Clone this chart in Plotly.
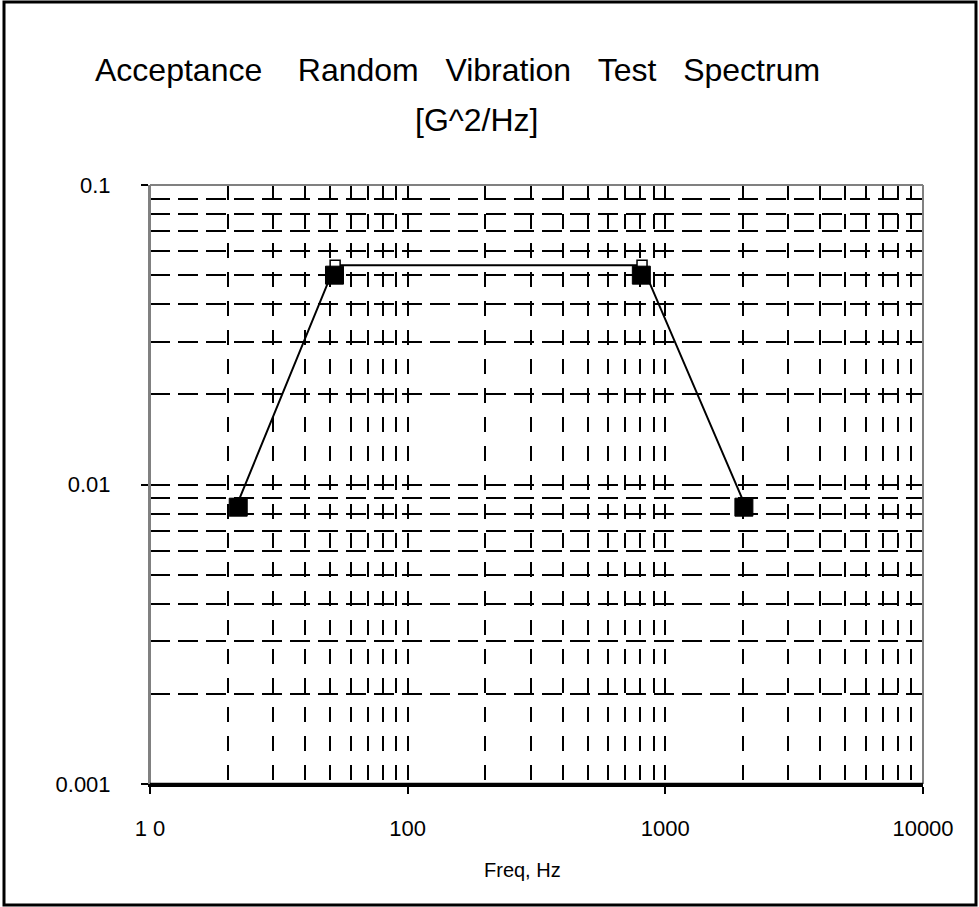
import plotly.graph_objects as go

# ---- data ----
line_freq = [21.8, 52.3, 812, 2030]
line_psd = [0.0086, 0.054, 0.054, 0.0086]
point_freq = [22, 52, 807, 2018]
point_psd = [0.0084, 0.050, 0.050, 0.0084]

x_tickvals = [10, 100, 1000, 10000]
x_ticktext = ["1 0", "100", "1000", "10000"]
y_tickvals = [0.001, 0.01, 0.1]
y_ticktext = ["0.001", "0.01", "0.1"]

NB = "\u00a0"
title_line1 = ("Acceptance" + NB * 4 + "Random" + NB * 3 + "Vibration" + NB * 3
               + "Test" + NB * 3 + "Spectrum")
title_line2 = "[G^2/Hz]"
x_title = "Freq, Hz"

# ---- layout geometry (pixels) ----
W, H = 979, 907
L, R, T, B = 150, 56, 185, 123
PW, PH = W - L - R, H - T - B


def px(xp):
    return (xp - L) / PW


def py(yp):
    return (H - B - yp) / PH


x_minor = [k * 10 ** e for e in range(1, 4) for k in range(2, 10)]
y_minor = [k * 10.0 ** e for e in range(-3, -1) for k in range(2, 10)]

fig = go.Figure()
fig.add_trace(go.Scatter(
    x=line_freq, y=line_psd, mode="lines+markers",
    line=dict(color="black", width=2),
    marker=dict(symbol="square", size=10, color="white",
                line=dict(color="black", width=1.5)),
    showlegend=False, hoverinfo="skip"))
fig.add_trace(go.Scatter(
    x=point_freq, y=point_psd, mode="markers",
    marker=dict(symbol="square", size=18, color="black",
                line=dict(color="black", width=1)),
    showlegend=False))

fig.update_layout(
    width=W, height=H,
    margin=dict(l=L, r=R, t=T, b=B, pad=0),
    paper_bgcolor="white", plot_bgcolor="white",
    font=dict(family="Liberation Sans, Arial, sans-serif", color="black"),
    xaxis=dict(
        type="log", range=[1, 4],
        tickmode="array", tickvals=x_tickvals, ticktext=x_ticktext,
        tickfont=dict(size=22),
        ticks="outside", ticklen=7, tickwidth=2, tickcolor="black",
        ticklabelstandoff=16,
        showline=True, linecolor="black", linewidth=2.5,
        showgrid=True, gridcolor="black", gridwidth=2, griddash="15px,14px",
        minor=dict(tickvals=x_minor, showgrid=True, gridcolor="black",
                   gridwidth=2, griddash="15px,14px", ticks=""),
        zeroline=False,
    ),
    yaxis=dict(
        type="log", range=[-3, -1],
        tickmode="array", tickvals=y_tickvals, ticktext=y_ticktext,
        tickfont=dict(size=22),
        ticks="outside", ticklen=7, tickwidth=2, tickcolor="black",
        ticklabelstandoff=26,
        showline=True, linecolor="#808080", linewidth=2,
        showgrid=True, gridcolor="black", gridwidth=2, griddash="20px,8px",
        minor=dict(tickvals=y_minor, showgrid=True, gridcolor="black",
                   gridwidth=2, griddash="20px,8px", ticks=""),
        zeroline=False,
    ),
    shapes=[
        dict(type="line", xref="paper", yref="paper", x0=0, x1=1, y0=1, y1=1,
             line=dict(color="#808080", width=2), layer="above"),
        dict(type="line", xref="paper", yref="paper", x0=1, x1=1, y0=0, y1=1,
             line=dict(color="#808080", width=2), layer="above"),
        dict(type="line", xref="paper", yref="paper", x0=0, x1=0, y0=0, y1=1,
             line=dict(color="#808080", width=2), layer="above"),
        dict(type="line", xref="paper", yref="paper", x0=0, x1=1, y0=0, y1=0,
             line=dict(color="black", width=2.5), layer="above"),
        dict(type="rect", xref="paper", yref="paper",
             x0=px(4), x1=px(976), y0=py(905), y1=py(2),
             line=dict(color="black", width=3), fillcolor="rgba(0,0,0,0)"),
    ],
    annotations=[
        dict(text=title_line1, xref="paper", yref="paper",
             x=px(457), y=py(70), xanchor="center", yanchor="middle",
             showarrow=False, font=dict(size=32)),
        dict(text=title_line2, xref="paper", yref="paper",
             x=px(476), y=py(120), xanchor="center", yanchor="middle",
             showarrow=False, font=dict(size=32)),
        dict(text=x_title, xref="paper", yref="paper",
             x=px(522), y=py(870), xanchor="center", yanchor="middle",
             showarrow=False, font=dict(size=20)),
    ],
)

fig.write_html(
    "out.html",
    config={"displayModeBar": False},
    post_script="document.body.style.margin='0px';document.body.style.overflow='hidden';",
)
